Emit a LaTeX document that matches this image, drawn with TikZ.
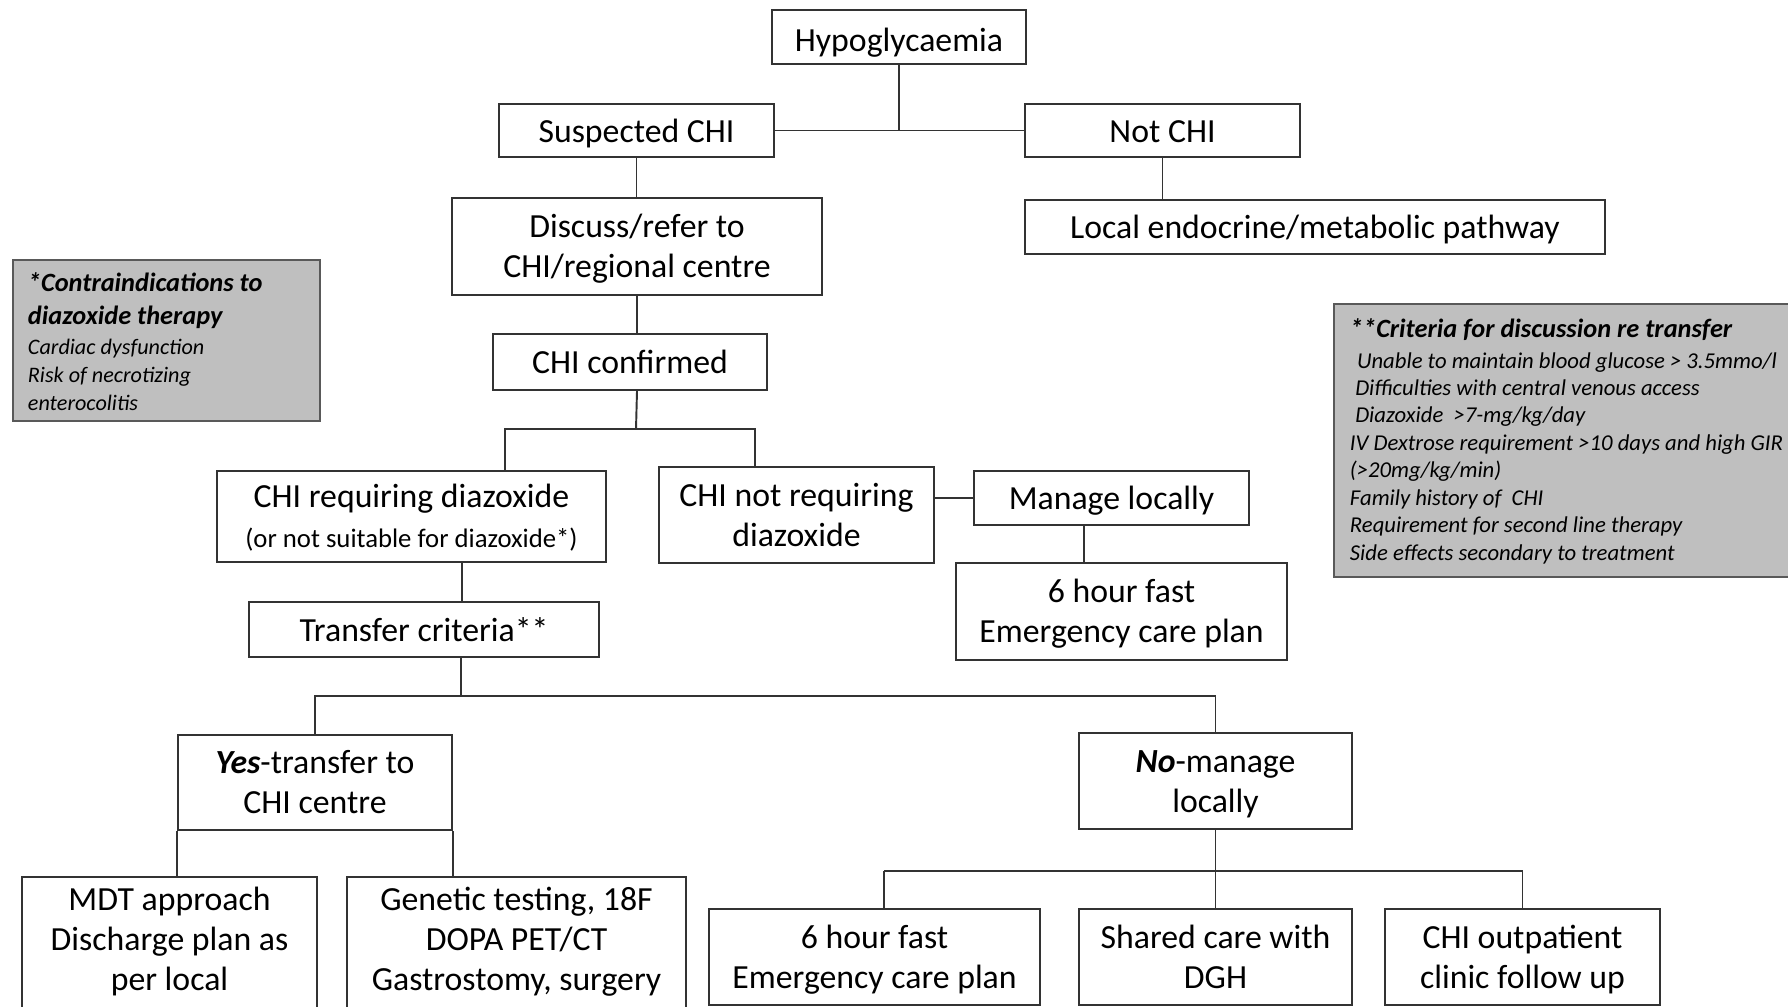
\documentclass[tikz,border=0pt]{standalone}
\usepackage{fontspec}
\setmainfont{Carlito}

\begin{document}
\begin{tikzpicture}[x=0.01cm,y=-0.01cm,line width=0.55pt,draw=black!80]
   \useasboundingbox (0,0) rectangle (1788,1006);
   \clip (0,0) rectangle (1788,1006);
   \tikzstyle{box}=[draw=black!80, align=center, inner sep=0pt, font=\fontsize{9.6}{11.4}\selectfont,
      execute at begin node={\rule{0pt}{9pt}}, execute at end node={\rule[-2.2pt]{0pt}{0pt}}]
   \tikzstyle{multi}=[text height=20.2pt, text depth=2.4pt]
   \tikzstyle{tall}=[text height=29.2pt, text depth=2.4pt]
   \tikzstyle{note}=[draw=black!65, fill=gray!50, inner sep=0pt]
   \tikzstyle{notetext}=[anchor=north west, inner sep=0pt, align=flush left]
   \node[box, execute at begin node={\rule{0pt}{10.2pt}}, minimum width=2.54cm, minimum height=0.54cm] (hypo) at (899,37) {Hypoglycaemia};
   \node[box, minimum width=2.75cm, minimum height=0.53cm] (suspected) at (636.5,130.5) {Suspected CHI};
   \node[box, minimum width=2.75cm, minimum height=0.53cm] (notchi) at (1162.5,130.5) {Not CHI};
   \node[box, multi, minimum width=3.70cm, minimum height=0.97cm] (discuss) at (637,246.5) {Discuss/refer to\\CHI/regional centre};
   \node[box, minimum width=5.80cm, minimum height=0.54cm] (pathway) at (1315,227) {Local endocrine/metabolic pathway};
   \node[box, minimum width=2.74cm, minimum height=0.56cm] (confirmed) at (630,362) {CHI confirmed};
   \node[box, multi, minimum width=3.89cm, minimum height=0.91cm] (requiring) at (411.5,516.5) {CHI requiring diazoxide\\{\fontsize{7.6}{9}\selectfont(or not suitable for diazoxide*)}};
   \node[box, multi, minimum width=2.75cm, minimum height=0.96cm] (notrequiring) at (796.5,515) {CHI not requiring\\diazoxide};
   \node[box, minimum width=2.75cm, minimum height=0.54cm] (managelocal) at (1111.5,498) {Manage locally};
   \node[box, multi, minimum width=3.31cm, minimum height=0.97cm] (fastlocal) at (1121.5,611.5) {6 hour fast\\Emergency care plan};
   \node[box, minimum width=3.50cm, minimum height=0.55cm] (transfer) at (424,629.5) {Transfer criteria**};
   \node[box, multi, minimum width=2.74cm, minimum height=0.95cm] (yes) at (315,782.5) {\textbf{\textit{Yes}}-transfer to\\CHI centre};
   \node[box, multi, minimum width=2.73cm, minimum height=0.96cm] (no) at (1215.5,781) {\textbf{\textit{No}}-manage\\locally};
   \node[box, tall, minimum width=2.95cm, minimum height=1.33cm] (mdt) at (169.5,943.5) {MDT approach\\Discharge plan as\\per local};
   \node[box, tall, minimum width=3.39cm, minimum height=1.33cm] (genetic) at (516.5,943.5) {Genetic testing, 18F\\DOPA PET/CT\\Gastrostomy, surgery};
   \node[box, multi, minimum width=3.31cm, minimum height=0.96cm] (fastshared) at (874.5,957) {6 hour fast\\Emergency care plan};
   \node[box, multi, minimum width=2.73cm, minimum height=0.96cm] (shared) at (1215.5,957) {Shared care with\\DGH};
   \node[box, multi, minimum width=2.75cm, minimum height=0.96cm] (outpatient) at (1522.5,957) {CHI outpatient\\clinic follow up};
   % footnote boxes
   \node[note, minimum width=3.07cm, minimum height=1.61cm] (contra) at (166.5,340.5) {};
   \node[notetext, text width=4cm] (contratext) at (27,272) {%
      {\fontsize{7.5}{9.4}\selectfont\bfseries\itshape *Contraindications to\\diazoxide therapy\par}
      \vspace{0.6pt}
      {\fontsize{6.3}{7.9}\selectfont\itshape Cardiac dysfunction\\Risk of necrotizing\\enterocolitis\par}};
   \node[note, minimum width=4.66cm, minimum height=2.73cm] (criteria) at (1567,440.5) {};
   \node[notetext, text width=6cm] (criteriatext) at (1349,318) {%
      {\fontsize{7.5}{9}\selectfont\bfseries\itshape **Criteria for discussion re transfer\par}
      \vspace{0.8pt}
      {\fontsize{6.45}{7.8}\selectfont\itshape \hspace*{2pt}Unable to maintain blood glucose > 3.5mmo/l\\
      \hspace*{1.5pt}Difficulties with central venous access\\
      \hspace*{1.5pt}Diazoxide \ >7-mg/kg/day\\
      IV Dextrose requirement >10 days and high GIR\\
      (>20mg/kg/min)\\
      Family history of \ CHI\\
      Requirement for second line therapy\\
      Side effects secondary to treatment\par}};
   \draw (hypo) -- (hypo |- suspected.east);
   \draw (suspected.east) -- (notchi.west);
   \draw (suspected.south) -- (suspected.south |- discuss.north);
   \draw (notchi.south) -- (notchi.south |- pathway.north);
   \draw (discuss.south) -- (discuss.south |- confirmed.north);
   \coordinate (split1) at (636,429);
   \draw (discuss.south |- confirmed.south) -- (split1);
   \draw ([xshift=0.935cm]requiring.north) |- (split1) -| ([xshift=-0.415cm]notrequiring.north);
   \draw ([xshift=0.505cm]requiring.south) -- ([xshift=0.505cm]requiring.south |- transfer.north);
   \draw (managelocal.west -| notrequiring.east) -- (managelocal.west);
   \draw ([xshift=-0.275cm]managelocal.south) -- ([xshift=-0.275cm]managelocal.south |- fastlocal.north);
   \coordinate (split2) at (461,696);
   \draw (split2 |- transfer.south) -- (split2);
   \draw (yes) |- (split2) -| (no);
   \draw (yes.south west) -- (yes.south west |- mdt.north);
   \draw (yes.south east) -- (yes.south east |- genetic.north);
   \coordinate (split3) at (1215.5,871);
   \draw (no) -- (split3);
   \draw ([xshift=0.095cm]fastshared.north |- split3) -- (outpatient.north |- split3);
   \foreach \target/\dx in {fastshared/0.095cm, shared/0cm, outpatient/0cm}
      \draw ([xshift=\dx]\target.north |- split3) -- ([xshift=\dx]\target.north);
\end{tikzpicture}
\end{document}
